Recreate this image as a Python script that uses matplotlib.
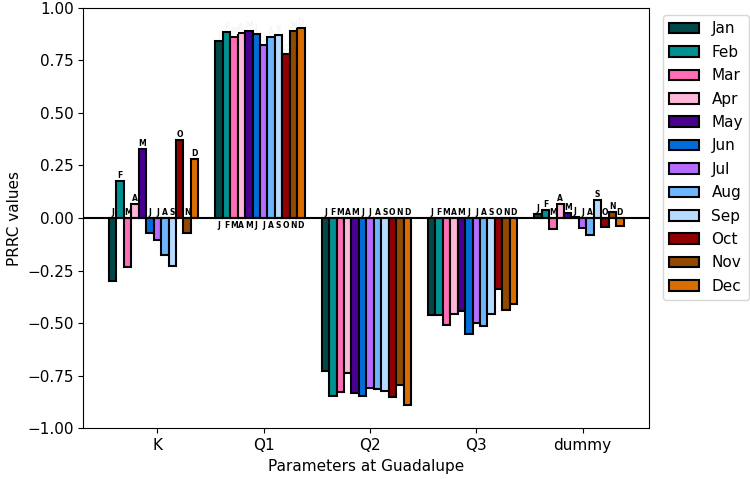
import numpy as np
import matplotlib.pyplot as plt

params = ['K', 'Q1', 'Q2', 'Q3', 'dummy']
months = ['Jan', 'Feb', 'Mar', 'Apr', 'May', 'Jun',
          'Jul', 'Aug', 'Sep', 'Oct', 'Nov', 'Dec']
initials = ['J', 'F', 'M', 'A', 'M', 'J', 'J', 'A', 'S', 'O', 'N', 'D']
colors = ['#004949', '#009292', '#ff6db6', '#ffb6db', '#490092', '#006ddb',
          '#b66dff', '#6db6ff', '#b6dbff', '#920000', '#924900', '#db6d00']

# PRRC per month, one list per parameter (K, Q1, Q2, Q3, dummy)
prrc_K = [-0.298, 0.175, -0.233, 0.068, 0.33, -0.071, -0.106, -0.177, -0.23, 0.37, -0.071, 0.28]
prrc_Q1 = [0.844, 0.886, 0.862, 0.88, 0.888, 0.875, 0.825, 0.862, 0.869, 0.78, 0.888, 0.904]
prrc_Q2 = [-0.728, -0.847, -0.828, -0.736, -0.834, -0.847, -0.807, -0.815, -0.823, -0.85, -0.795, -0.89]
prrc_Q3 = [-0.463, -0.462, -0.507, -0.456, -0.444, -0.551, -0.499, -0.515, -0.456, -0.338, -0.436, -0.409]
prrc_dummy = [0.017, 0.036, -0.054, 0.065, 0.024, 0.003, -0.048, -0.082, 0.087, -0.043, 0.029, -0.04]

prrc = np.array([prrc_K, prrc_Q1, prrc_Q2, prrc_Q3, prrc_dummy])

fig = plt.figure(figsize=(7.5, 4.79), dpi=100)
ax = fig.add_axes([83.3 / 750, 1 - 428.3 / 479, (649.3 - 83.3) / 750, (428.3 - 7.7) / 479])

x = np.arange(len(params))
w = 0.07
for i, m in enumerate(months):
    vals = prrc[:, i]
    pos = x + (i - 6) * w
    ax.bar(pos, vals, width=w, color=colors[i], edgecolor='black', linewidth=1.5, label=m)
    for px, v in zip(pos, vals):
        if v > 0.5:
            # tall bars: label goes under the zero line
            ax.text(px, -0.012, initials[i], ha='center', va='top', fontsize=5.5, fontweight='bold')
            ax.text(px, v + 0.005, initials[i], ha='center', va='bottom', fontsize=5.5,
                    fontweight='bold', color='#f5f5f5')
        else:
            ax.text(px, max(v, 0) + 0.005, initials[i], ha='center', va='bottom',
                    fontsize=5.5, fontweight='bold')

ax.axhline(0, color='black', linewidth=1.5)
ax.set_ylim(-1, 1)
ax.set_xticks(x)
ax.set_xticklabels(params, fontsize=11)
ax.tick_params(axis='y', labelsize=11)
ax.set_xlabel('Parameters at Guadalupe', fontsize=11)
ax.set_ylabel('PRRC values', fontsize=11)
ax.legend(loc='upper left', bbox_to_anchor=(1.01, 1.0), fontsize=11, labelspacing=0.55)

plt.savefig('out.png', dpi=100)
